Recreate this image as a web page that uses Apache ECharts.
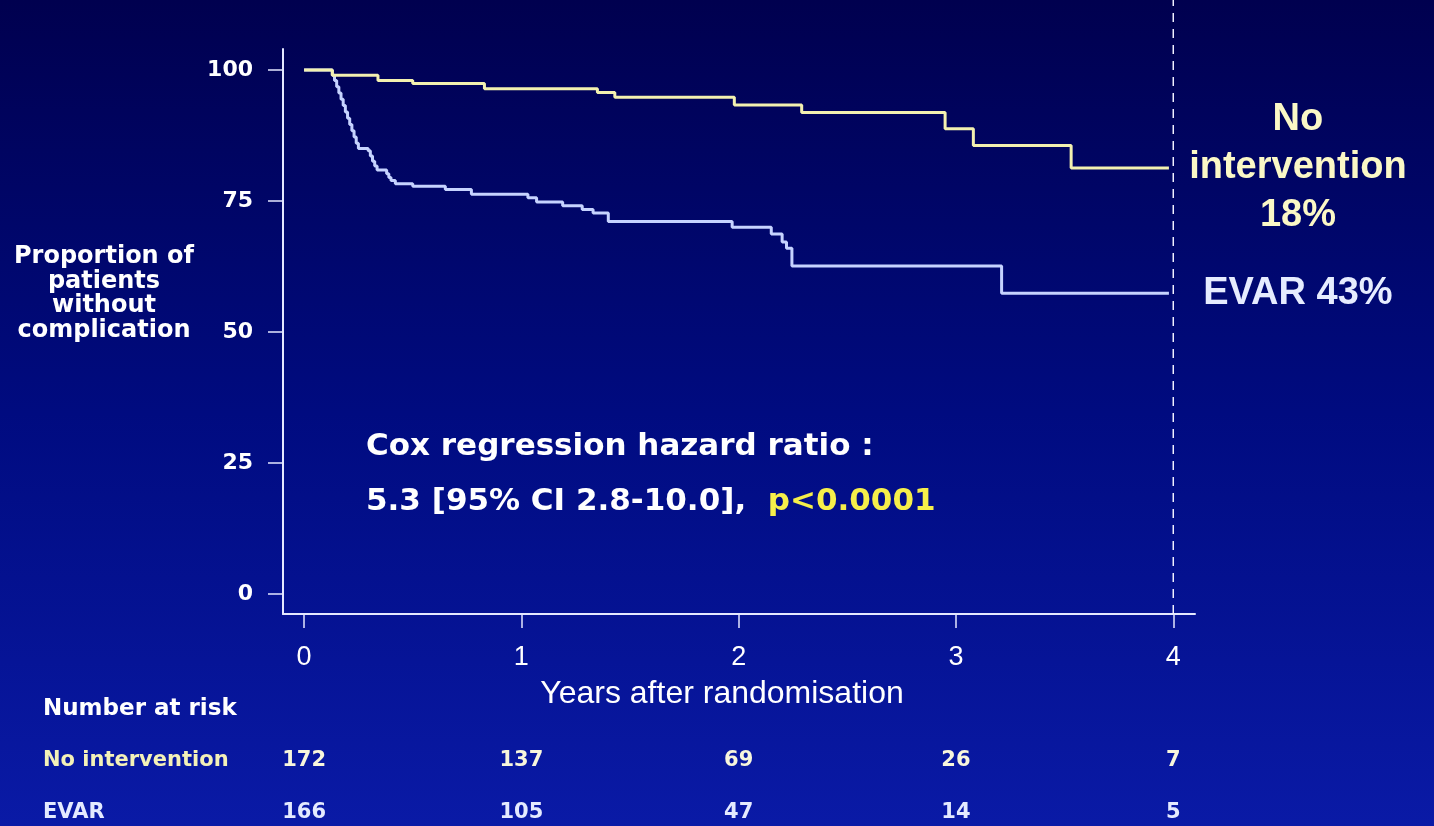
<!DOCTYPE html>
<html>
<head>
<meta charset="utf-8">
<script src="https://cdn.jsdelivr.net/npm/echarts@6/dist/echarts.min.js"></script>
<style>
html,body{margin:0;padding:0;width:1434px;height:826px;overflow:hidden;}
#c{width:1434px;height:826px;}
</style>
</head>
<body>
<div id="c"></div>
<script>
// ---- data ----
const groupNames = ['No intervention', 'EVAR'];
const endPercents = ['18%', '43%'];
const yTicks = [0, 25, 50, 75, 100];
const xTicks = [0, 1, 2, 3, 4];
const followUpEnd = 4;

const yearsNoInt = [0, 0.13, 0.34, 0.50, 0.83, 1.35, 1.43, 1.98, 2.29, 2.95, 3.08, 3.53, 3.98];
const survNoInt  = [100, 99.0, 98.0, 97.4, 96.4, 95.7, 94.8, 93.3, 91.9, 88.8, 85.6, 81.3, 81.3];

const yearsEvar = [0, 0.13, 0.14, 0.15, 0.16, 0.17, 0.18, 0.19, 0.20, 0.21, 0.22, 0.23, 0.24, 0.25, 0.295, 0.305, 0.315, 0.325, 0.336, 0.38, 0.39, 0.40, 0.42, 0.50, 0.65, 0.77, 1.03, 1.07, 1.19, 1.28, 1.33, 1.40, 1.97, 2.15, 2.20, 2.22, 2.245, 3.21, 3.98];
const survEvar  = [100, 99.0, 98.0, 96.8, 95.6, 94.4, 93.2, 92.0, 90.8, 89.6, 88.4, 87.2, 86.0, 85.0, 84.6, 83.6, 82.6, 81.7, 80.9, 80.2, 79.5, 78.9, 78.3, 77.8, 77.2, 76.3, 75.6, 74.8, 74.1, 73.4, 72.7, 71.1, 70.0, 68.7, 67.2, 66.0, 62.6, 57.4, 57.4];

const riskYears = [0, 1, 2, 3, 4];
const riskNoInt = [172, 137, 69, 26, 7];
const riskEvar  = [166, 105, 47, 14, 5];
const riskRows = ['Number at risk', 'No intervention', 'EVAR'];

const yName = 'Proportion of\npatients\nwithout\ncomplication';
const xName = 'Years after randomisation';
const coxLine1 = 'Cox regression hazard ratio :';
const coxLine2a = '5.3 [95% CI 2.8-10.0],  ';
const coxLine2b = 'p<0.0001';

// ---- styles ----
const YELLOW = '#f3f1b0';
const BLUE = '#c6d3ff';
const AXIS = '#e4e8ff';
const BOLD = 'DejaVu Sans';
const ARIAL = 'Liberation Sans';

const zip = (a, b) => a.map((v, i) => [v, b[i]]);

const chart = echarts.init(document.getElementById('c'), null, {renderer: 'canvas'});

const rowStyle = ['h', 'n', 'e'];

function riskSeries(counts, rowIdx, color) {
  return {
    name: riskRows[rowIdx], type: 'scatter', xAxisIndex: 1, yAxisIndex: 1,
    symbolSize: 2, itemStyle: {color: 'rgba(0,0,0,0)', opacity: 1},
    data: riskYears.map((y, i) => [y, rowIdx, counts[i]]),
    label: {
      show: true, position: 'inside', formatter: p => String(p.value[2]),
      color: color, fontFamily: BOLD, fontWeight: 'bold', fontSize: 21
    }
  };
}

chart.setOption({
  animation: false,
  backgroundColor: {
    type: 'linear', x: 0, y: 0, x2: 0, y2: 1,
    colorStops: [
      {offset: 0, color: '#00004f'},
      {offset: 0.5, color: '#000b80'},
      {offset: 1, color: '#0a1aa6'}
    ]
  },
  grid: [
    {left: 283, right: 239, top: 49, bottom: 212},
    {left: 283, right: 239, top: 683, bottom: 0},
    {left: 283, right: 239, top: 0, bottom: 212}
  ],
  xAxis: [
    {
      gridIndex: 0, type: 'value', min: -0.097, max: 4.1,
      axisLine: {show: true, onZero: false, lineStyle: {color: AXIS, width: 2}},
      axisTick: {show: true, length: 14, customValues: xTicks, lineStyle: {color: AXIS, width: 1.5}},
      axisLabel: {customValues: xTicks, color: '#ffffff', fontFamily: ARIAL, fontSize: 27, margin: 30},
      splitLine: {show: false},
      name: xName, nameLocation: 'middle', nameGap: 64,
      nameTextStyle: {color: '#ffffff', fontFamily: ARIAL, fontSize: 32, padding: [0, 34, 0, 0]}
    },
    {
      gridIndex: 1, type: 'value', min: -0.097, max: 4.1, show: false
    },
    {
      gridIndex: 2, type: 'value', min: -0.097, max: 4.1, show: false
    }
  ],
  yAxis: [
    {
      gridIndex: 0, type: 'value', min: -3.8, max: 104,
      axisLine: {show: true, onZero: false, lineStyle: {color: AXIS, width: 2}},
      axisTick: {show: true, length: 15, customValues: yTicks, lineStyle: {color: AXIS, width: 1.5}},
      axisLabel: {customValues: yTicks, color: '#ffffff', fontFamily: BOLD, fontWeight: 'bold', fontSize: 22, margin: 30},
      splitLine: {show: false}
    },
    {
      gridIndex: 1, type: 'value', inverse: true, min: -0.505, max: 2.27,
      axisLine: {show: false}, axisTick: {show: false}, splitLine: {show: false},
      axisLabel: {
        customValues: [0, 1, 2],
        margin: 240, align: 'left', fontFamily: BOLD, fontWeight: 'bold',
        formatter: v => '{' + rowStyle[v] + '|' + riskRows[v] + '}',
        rich: {
          h: {color: '#ffffff', fontFamily: BOLD, fontWeight: 'bold', fontSize: 23},
          n: {color: '#f4f1b8', fontFamily: BOLD, fontWeight: 'bold', fontSize: 21},
          e: {color: '#e4eaff', fontFamily: BOLD, fontWeight: 'bold', fontSize: 21}
        }
      }
    },
    {
      gridIndex: 2, type: 'value', min: 0, max: 1, show: false
    }
  ],
  graphic: [
    {
      type: 'text', x: 104, y: 294,
      style: {
        text: yName, fill: '#ffffff', font: 'bold 24px "DejaVu Sans"',
        align: 'center', verticalAlign: 'middle', lineHeight: 24.5
      }
    },
    {
      type: 'text', x: 366, y: 447,
      style: {text: coxLine1, fill: '#ffffff', font: 'bold 31px "DejaVu Sans"', verticalAlign: 'middle'}
    },
    {
      type: 'text', x: 366, y: 502,
      style: {
        text: '{a|' + coxLine2a + '}{b|' + coxLine2b + '}',
        verticalAlign: 'middle',
        rich: {
          a: {fill: '#ffffff', font: 'bold 31px "DejaVu Sans"'},
          b: {fill: '#f6ef4a', font: 'bold 31px "DejaVu Sans"'}
        }
      }
    }
  ],
  series: [
    {
      name: groupNames[1], type: 'line', xAxisIndex: 0, yAxisIndex: 0,
      data: zip(yearsEvar, survEvar), step: 'end', showSymbol: false, symbol: 'none',
      lineStyle: {color: BLUE, width: 3},
      endLabel: {
        show: true, formatter: groupNames[1] + ' ' + endPercents[1],
        color: '#e6ecff', fontFamily: ARIAL, fontWeight: 'bold', fontSize: 38,
        align: 'center', distance: 0, offset: [129, 0]
      }
    },
    {
      name: groupNames[0], type: 'line', xAxisIndex: 0, yAxisIndex: 0,
      data: zip(yearsNoInt, survNoInt), step: 'end', showSymbol: false, symbol: 'none',
      lineStyle: {color: YELLOW, width: 3},
      endLabel: {
        show: true, formatter: 'No\nintervention\n' + endPercents[0],
        color: '#fbf8c6', fontFamily: ARIAL, fontWeight: 'bold', fontSize: 38, lineHeight: 48,
        align: 'center', distance: 0, offset: [129, 0]
      }
    },
    {
      name: 'end of follow-up', type: 'line', xAxisIndex: 2, yAxisIndex: 2,
      data: [[followUpEnd, 0], [followUpEnd, 1]], showSymbol: false, symbol: 'none',
      lineStyle: {color: '#f0f0ff', width: 1.5, type: [9, 7]}, z: 1
    },
    riskSeries(riskNoInt, 1, '#f8f6dc'),
    riskSeries(riskEvar, 2, '#e4eaff')
  ]
});
</script>
</body>
</html>
